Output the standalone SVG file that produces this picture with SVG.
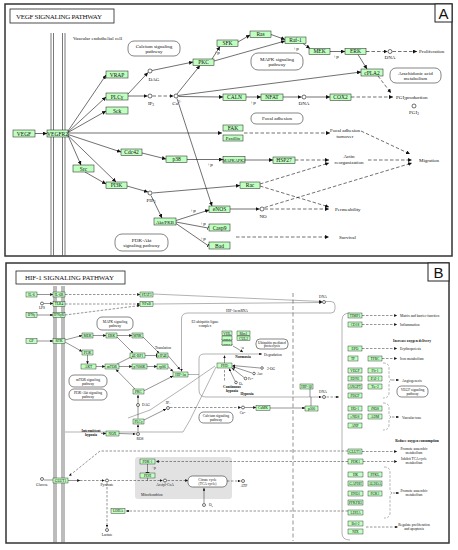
<svg xmlns="http://www.w3.org/2000/svg" width="458" height="550" viewBox="0 0 458 550">
<defs>
<style>
.bg{fill:#fff}
.frame{fill:#fff;stroke:#333;stroke-width:1.5}
.ttl{fill:#fff;stroke:#222;stroke-width:0.8}
.n rect{fill:#bfffbf;stroke:#1a1a1a;stroke-width:0.5}
.n text,.t{font-family:"Liberation Serif",serif;font-size:5.5px;text-anchor:middle;fill:#111}
.s{font-family:"Liberation Serif",serif;font-size:3.6px;fill:#111;text-anchor:middle}
.sl{font-family:"Liberation Serif",serif;font-size:3.6px;fill:#111}
.b{font-weight:bold}
.nb rect{fill:#bfffbf;stroke:#1a1a1a;stroke-width:0.4}
.nb text{font-family:"Liberation Serif",serif;font-size:3.6px;text-anchor:middle;fill:#111}
.pw{fill:#fff;stroke:#333;stroke-width:0.6}
.c path{fill:none;stroke:#111;stroke-width:0.6}
.c .d{stroke-dasharray:3.5 2}
.cb path{fill:none;stroke:#111;stroke-width:0.45}
.cb .d{stroke-dasharray:2.5 1.5}
.cb .g{stroke:#666;stroke-width:0.5}
.cpd{fill:#fff;stroke:#111;stroke-width:0.6}
.mem{stroke:#555;stroke-width:0.8}
.big{font-family:"Liberation Sans",sans-serif;font-size:15px;fill:#111;text-anchor:middle}
.head{font-family:"Liberation Serif",serif;font-size:7px;fill:#111}
</style>
<marker id="ar" viewBox="0 0 6 6" refX="6" refY="3" markerWidth="4" markerHeight="4" orient="auto" markerUnits="userSpaceOnUse"><path d="M0,0 L6,3 L0,6 z" fill="#111"/></marker>
<marker id="ars" viewBox="0 0 6 6" refX="6" refY="3" markerWidth="2.8" markerHeight="2.8" orient="auto" markerUnits="userSpaceOnUse"><path d="M0,0 L6,3 L0,6 z" fill="#111"/></marker>
<marker id="bar" viewBox="0 0 2 8" refX="1" refY="4" markerWidth="0.9" markerHeight="6" orient="auto" markerUnits="userSpaceOnUse"><rect width="2" height="8" fill="#111"/></marker>
</defs>
<rect class="bg" width="458" height="550"/>

<!-- ================= PANEL A ================= -->
<rect class="frame" x="5" y="4" width="447" height="252"/>
<rect class="ttl" x="10" y="9" width="104" height="14"/>
<text class="head" x="16" y="18.5" textLength="86">VEGF SIGNALING PATHWAY</text>
<rect fill="#fff" stroke="#222" stroke-width="1" x="435" y="4" width="17" height="18"/>
<text class="big" x="443.5" y="19">A</text>

<g id="membraneA">
<line class="mem" x1="51" y1="33" x2="51" y2="256"/><line class="mem" x1="53.5" y1="33" x2="53.5" y2="256"/>
<line class="mem" x1="62.5" y1="33" x2="62.5" y2="256"/><line class="mem" x1="65" y1="33" x2="65" y2="256"/>
</g>
<text class="t" x="73" y="39.5" style="text-anchor:start;font-size:5px">Vascular endothelial cell</text>

<g id="pathwaysA">
<g id="calcium_a"><rect class="pw" x="128" y="41" width="52" height="15" rx="6"/><text class="t" x="154" y="47.5" style="font-size:5px">Calcium signaling</text><text class="t" x="154" y="53" style="font-size:5px">pathway</text></g>
<g id="mapk_a"><rect class="pw" x="251" y="53" width="52" height="17" rx="7"/><text class="t" x="277" y="60.5" style="font-size:5px">MAPK signaling</text><text class="t" x="277" y="66" style="font-size:5px">pathway</text></g>
<g id="arach"><rect class="pw" x="390" y="68" width="51" height="15" rx="6"/><text class="t" x="415.5" y="74.5" style="font-size:5px">Arachidonic acid</text><text class="t" x="415.5" y="80" style="font-size:5px">metabolism</text></g>
<g id="focal"><rect class="pw" x="251" y="113" width="52" height="11" rx="5"/><text class="t" x="277" y="120" style="font-size:5px">Focal adhesion</text></g>
<g id="pi3kakt_a"><rect class="pw" x="115" y="234" width="53" height="17" rx="7"/><text class="t" x="141.5" y="241.5" style="font-size:5px">PI3K-Akt</text><text class="t" x="141.5" y="247" style="font-size:5px">signaling pathway</text></g>
</g>

<g id="connectorsA" class="c">
<path d="M35,133.5 L47,133.5" marker-end="url(#ar)"/>
<path d="M68,131 L106,75" marker-end="url(#ar)"/>
<path d="M68,132 L106,97" marker-end="url(#ar)"/>
<path d="M68,132.5 L106,111" marker-end="url(#ar)"/>
<path d="M68,133 L222,133" marker-end="url(#ar)"/>
<path d="M68,134.5 L121,152" marker-end="url(#ar)"/>
<path d="M68,135.5 L81,165" marker-end="url(#ar)"/>
<path d="M68,135.5 L116,182" marker-end="url(#ar)"/>
<path d="M128,94 L148,72.5" marker-end="url(#ar)"/>
<path d="M128,96 L147.5,96" marker-end="url(#ar)"/>
<path class="d" d="M152.5,96 L173.5,96" marker-end="url(#ar)"/>
<path d="M152,70.5 L193,62" marker-end="url(#ar)"/>
<path d="M177,94 L200,65.5" marker-end="url(#ar)"/>
<path d="M178.5,96.5 L223,97" marker-end="url(#ar)"/>
<path d="M178,95.5 L361,72" marker-end="url(#ar)"/>
<path d="M177,98.5 L212,206" marker-end="url(#ar)"/>
<path d="M212,59 L220,46.5" marker-end="url(#ar)"/>
<path d="M214,61 L285,41" marker-end="url(#ar)"/>
<path d="M238,42 L250,35" marker-end="url(#ar)"/>
<path d="M271,34.5 L285,39.5" marker-end="url(#ar)"/>
<path d="M303,43.5 L310,48.5" marker-end="url(#ar)"/>
<path d="M330,51.5 L345,51.5" marker-end="url(#ar)"/>
<path class="d" d="M366,51.5 L387.5,51.5" marker-end="url(#ar)"/>
<path class="d" d="M392.5,51.5 L417,51.5" marker-end="url(#ar)"/>
<path d="M358,54.5 L367,69" marker-end="url(#ar)"/>
<path class="d" d="M378,76 L391,93" marker-end="url(#ar)"/>
<path d="M246,97 L261,97" marker-end="url(#ar)"/>
<path d="M283,97 L301.5,97" marker-end="url(#ar)"/>
<path d="M306.5,97 L330,97" marker-end="url(#ar)"/>
<path class="d" d="M351,97 L393,97" marker-end="url(#ar)"/>
<path d="M142,153 L166,159" marker-end="url(#ar)"/>
<path d="M187,159.5 L223,159.5" marker-end="url(#ar)"/>
<path d="M245,160 L273,160" marker-end="url(#ar)"/>
<path d="M85,172 L106,184" marker-end="url(#ar)"/>
<path d="M127,186 L148,192" marker-end="url(#ar)"/>
<path d="M152.5,193 L240,185.5" marker-end="url(#ar)"/>
<path d="M151,195.5 L162,218" marker-end="url(#ar)"/>
<path d="M176,220.5 L209,210" marker-end="url(#ar)"/>
<path d="M176,222 L208,228" marker-end="url(#bar)"/>
<path d="M176,223.5 L208,245.5" marker-end="url(#bar)"/>
<path d="M230,209 L259.5,209" marker-end="url(#ar)"/>
<path class="d" d="M244,133 L330,133" marker-end="url(#ar)"/>
<path class="d" d="M295,160 L329,160" marker-end="url(#ar)"/>
<path class="d" d="M368,160 L412,160" marker-end="url(#ar)"/>
<path class="d" d="M361,131 L410,154" marker-end="url(#ar)"/>
<path class="d" d="M260,184 L329,163" marker-end="url(#ar)"/>
<path class="d" d="M260,186 L329,207" marker-end="url(#ar)"/>
<path class="d" d="M264.5,207.5 L412,163" marker-end="url(#ar)"/>
<path class="d" d="M264.5,209 L329,209" marker-end="url(#ar)"/>
<path class="d" d="M236,237 L329,237" marker-end="url(#ar)"/>
</g>

<g id="compoundsA">
<circle class="cpd" cx="150" cy="71" r="2"/><circle class="cpd" cx="150" cy="96" r="2"/><circle class="cpd" cx="176" cy="96" r="2"/>
<circle class="cpd" cx="390" cy="51.5" r="2"/><circle class="cpd" cx="304" cy="97" r="2"/><circle class="cpd" cx="414" cy="106" r="2"/>
<circle class="cpd" cx="150" cy="193" r="2"/><circle class="cpd" cx="262" cy="209" r="2"/>
</g>
<g id="labelsA" class="t" style="font-size:5px">
<text x="154" y="81">DAG</text><text x="151" y="104.5">IP<tspan font-size="3.5" dy="1">3</tspan></text>
<text x="177" y="104.5">Ca<tspan font-size="3.5" dy="-2">2+</tspan></text>
<text x="390" y="59">DNA</text><text x="304" y="105">DNA</text>
<text x="419" y="53" style="text-anchor:start">Proliferation</text>
<text x="396" y="99" style="text-anchor:start">PGI<tspan font-size="3.5" dy="1">2</tspan><tspan dy="-1">production</tspan></text>
<text x="414" y="114">PGI<tspan font-size="3.5" dy="1">2</tspan></text>
<text x="151" y="202">PIP<tspan font-size="3.5" dy="1">3</tspan></text>
<text x="263" y="218">NO</text>
<text x="345" y="132">Focal adhesion</text><text x="345" y="137.5">turnover</text>
<text x="349" y="158">Actin</text><text x="349" y="163.5">reorganization</text>
<text x="419" y="161.5" style="text-anchor:start">Migration</text>
<text x="335" y="210.5" style="text-anchor:start">Permeability</text>
<text x="339" y="238.5" style="text-anchor:start">Survival</text>
<text x="217" y="53.5">+p</text><text x="296" y="50">+p</text><text x="336" y="58">+p</text><text x="253" y="104">+p</text>
<text x="210" y="166">+p</text><text x="193" y="212">+p</text><text x="203" y="225">+p</text><text x="203" y="240">+p</text>
</g>

<g id="VEGF" class="n"><rect x="13" y="130" width="22" height="7"/><text x="24" y="135.5">VEGF</text></g>
<g id="VEGFR2" class="n"><rect x="47" y="130" width="21" height="7"/><text x="57.5" y="135.5">VEGFR2</text></g>
<g id="VRAP" class="n"><rect x="106" y="71" width="22" height="7"/><text x="117" y="76.5">VRAP</text></g>
<g id="PLCg" class="n"><rect x="106" y="93" width="22" height="7"/><text x="117" y="98.5">PLCγ</text></g>
<g id="Sck" class="n"><rect x="106" y="107" width="22" height="7"/><text x="117" y="112.5">Sck</text></g>
<g id="PKC" class="n"><rect x="193" y="59" width="21" height="6.5"/><text x="203.5" y="64">PKC</text></g>
<g id="SFK" class="n"><rect x="217" y="40" width="21" height="6.5"/><text x="227.5" y="45">SFK</text></g>
<g id="Ras" class="n"><rect x="250" y="31" width="21" height="6.5"/><text x="260.5" y="36">Ras</text></g>
<g id="Raf1" class="n"><rect x="285" y="37" width="21" height="6.5"/><text x="295.5" y="42">Raf-1</text></g>
<g id="MEK" class="n"><rect x="309" y="48.5" width="21" height="6"/><text x="319.5" y="53.3">MEK</text></g>
<g id="ERK" class="n"><rect x="345" y="48.5" width="21" height="6"/><text x="355.5" y="53.3">ERK</text></g>
<g id="cPLA2" class="n"><rect x="361" y="69" width="22" height="7"/><text x="372" y="74.5">cPLA2</text></g>
<g id="CALN" class="n"><rect x="223" y="94" width="23" height="6.5"/><text x="234.5" y="99">CALN</text></g>
<g id="NFAT" class="n"><rect x="261" y="94" width="22" height="6.5"/><text x="272" y="99">NFAT</text></g>
<g id="COX2" class="n"><rect x="330" y="94" width="21" height="6.5"/><text x="340.5" y="99">COX2</text></g>
<g id="FAK" class="n"><rect x="223" y="125" width="20" height="6"/><text x="233" y="129.8">FAK</text></g>
<g id="Paxillin" class="n"><rect x="223" y="135" width="20" height="6"/><text x="233" y="139.8" style="font-size:4.6px">Paxillin</text></g>
<g id="Cdc42" class="n"><rect x="121" y="149" width="21" height="6.5"/><text x="131.5" y="154">Cdc42</text></g>
<g id="p38" class="n"><rect x="166" y="156" width="21" height="6.5"/><text x="176.5" y="161">p38</text></g>
<g id="MAPKAPK2" class="n"><rect x="223" y="156.5" width="22" height="6.5"/><text x="234" y="161.5" style="font-size:4.2px">MAPKAPK2</text></g>
<g id="HSP27" class="n"><rect x="273" y="157" width="22" height="6.5"/><text x="284" y="162">HSP27</text></g>
<g id="Src" class="n"><rect x="73" y="165" width="21" height="7"/><text x="83.5" y="170.5">Src</text></g>
<g id="PI3K" class="n"><rect x="106" y="182" width="21" height="6.5"/><text x="116.5" y="187">PI3K</text></g>
<g id="Rac" class="n"><rect x="240" y="182" width="20" height="6.5"/><text x="250" y="187">Rac</text></g>
<g id="AktPKB" class="n"><rect x="154" y="218" width="22" height="7"/><text x="165" y="223.5" style="font-size:4.8px">Akt/PKB</text></g>
<g id="eNOS" class="n"><rect x="209" y="206" width="21" height="6.5"/><text x="219.5" y="211">eNOS</text></g>
<g id="Casp9" class="n"><rect x="209" y="224" width="21" height="7"/><text x="219.5" y="229.5">Casp9</text></g>
<g id="Bad" class="n"><rect x="209" y="242" width="21" height="7"/><text x="219.5" y="247.5">Bad</text></g>

<!-- ================= PANEL B ================= -->
<rect class="frame" x="6" y="263" width="443" height="280"/>
<rect class="ttl" x="16" y="271" width="109" height="13"/>
<text class="head" x="25" y="280" textLength="89">HIF-1 SIGNALING PATHWAY</text>
<rect fill="#fff" stroke="#222" stroke-width="1" x="428" y="263" width="21" height="18"/>
<text class="big" x="438.5" y="278">B</text>

<g id="membraneB">
<line class="mem" x1="54" y1="286" x2="54" y2="543"/><line class="mem" x1="56" y1="286" x2="56" y2="543"/>
<line class="mem" x1="62" y1="286" x2="62" y2="543"/><line class="mem" x1="64" y1="286" x2="64" y2="543"/>
</g>
<line x1="293" y1="293" x2="293" y2="541" stroke="#777" stroke-width="0.8" stroke-dasharray="4 2.5"/>
<rect x="135" y="457" width="97" height="42" rx="3" fill="#e2e2e2"/>
<text class="sl" x="141" y="495.5">Mitochondrion</text>

<g id="pathwaysB">
<g id="mapk_b"><rect class="pw" x="97" y="317" width="36" height="13" rx="5"/><text class="s" x="115" y="322.5">MAPK signaling</text><text class="s" x="115" y="327">pathway</text></g>
<g id="mtor_b"><rect class="pw" x="69" y="375" width="38" height="12" rx="5"/><text class="s" x="88" y="380.5">mTOR signaling</text><text class="s" x="88" y="384.5">pathway</text></g>
<g id="pi3k_b"><rect class="pw" x="69" y="389" width="38" height="11" rx="5"/><text class="s" x="88" y="394">PI3K-Akt signaling</text><text class="s" x="88" y="398">pathway</text></g>
<g id="ubi_b"><rect class="pw" x="256" y="339" width="32" height="10" rx="4"/><text class="s" x="272" y="343.5">Ubiquitin mediated</text><text class="s" x="272" y="347.3">proteolysis</text></g>
<g id="calcium_b"><rect class="pw" x="199" y="412" width="34" height="11" rx="4.5"/><text class="s" x="216" y="417">Calcium signaling</text><text class="s" x="216" y="421">pathway</text></g>
<g id="vegf_b"><rect class="pw" x="397" y="386" width="31" height="11" rx="4.5"/><text class="s" x="412.5" y="391">VEGF signaling</text><text class="s" x="412.5" y="395">pathway</text></g>
<g id="tca_b"><rect class="pw" x="188" y="476" width="39" height="11" rx="4.5"/><text class="s" x="207.5" y="481">Citrate cycle</text><text class="s" x="207.5" y="485">(TCA cycle)</text></g>
</g>

<g id="connectorsB" class="cb">
<path d="M37,294.5 L53,294.5" marker-end="url(#ars)"/>
<path d="M44,303.5 L53,303.5" marker-end="url(#ars)"/>
<path d="M37,315 L53,315" marker-end="url(#ars)"/>
<path d="M37,341 L53,341" marker-end="url(#ars)"/>
<path class="d" d="M65,294.5 L140,294.5" marker-end="url(#ars)"/>
<path class="d" d="M65,304 L140,304" marker-end="url(#ars)"/>
<path class="d" d="M65,315 L140,305.5" marker-end="url(#ars)"/>
<path class="g" d="M153,294 L322,301.5" marker-end="url(#ars)"/>
<path class="g" d="M153,304 L322,302.5" marker-end="url(#ars)"/>
<path class="g" d="M326,301.5 L331,301.5 Q335,301.5 335,305.5 L335,309 Q335,313 331,313 L188,313 Q181.5,313 181.5,319 L181.5,371.5" marker-end="url(#ars)"/>
<path d="M65,340 L82,335.5" marker-end="url(#ars)"/>
<path d="M65,342 L82,351.5" marker-end="url(#ars)"/>
<path d="M93,335.5 L106,335.5" marker-end="url(#ars)"/>
<path d="M117,335.5 L132,335.5" marker-end="url(#ars)"/>
<path d="M143,337 L159,353" marker-end="url(#ars)"/>
<path d="M117,337 L133,353" marker-end="url(#ars)"/>
<path d="M87.5,355 L87.5,364" marker-end="url(#ars)"/>
<path d="M96,366.5 L105,366.5" marker-end="url(#ars)"/>
<path d="M119,366.5 L132,366.5" marker-end="url(#ars)"/>
<path d="M147,366.5 L157,366.5" marker-end="url(#ars)"/>
<path d="M117,364 L131,357" marker-end="url(#bar)"/>
<path d="M145,355.5 L156.5,355.5" marker-end="url(#bar)"/>
<path d="M168,355.5 L180,369.5" marker-end="url(#ars)"/>
<path d="M168,366.5 L173,371.5" marker-end="url(#ars)"/>
<path class="g" d="M188,374.5 L199,374.5"/>
<path class="g" d="M199,374.5 L199,359 Q199,354 204,354 L262,354" marker-end="url(#ars)"/>
<path class="g" d="M199,374.5 L199,390 Q199,397 206,397 L321.5,397" marker-end="url(#ars)"/>
<path class="d" d="M326.5,397 L339,397" marker-end="url(#ars)"/>
<path d="M310,389 L310,397"/>
<path d="M311,406 L311,397"/>
<path d="M224.5,363 L224.5,355.5" marker-end="url(#ars)"/>
<path d="M233,346 L243,352" marker-end="url(#ars)"/>
<path d="M260,368 L232.5,365.5" marker-end="url(#ars)"/>
<path d="M252,373 L232.5,366.5" marker-end="url(#ars)"/>
<path d="M244,377.5 L232,368" marker-end="url(#ars)"/>
<path d="M235,381 L229,368.5" marker-end="url(#ars)"/>
<path class="d" d="M224.5,370 L224.5,382"/>
<path class="g" d="M215,366 L186,386 L150,410 L128,418"/>
<path class="g" d="M216,367 L190,420 L183,432 L65,432"/>
<path d="M138,418.5 L138,395" marker-end="url(#ars)"/>
<path d="M135,389 L116,369.5" marker-end="url(#ars)"/>
<path d="M143.5,391 L173,376" marker-end="url(#ars)"/>
<path d="M144,420 L166,409" marker-end="url(#ars)"/>
<path class="d" d="M170,407.5 L241,407.5" marker-end="url(#ars)"/>
<path d="M245,407.5 L256,407.5" marker-end="url(#ars)"/>
<path d="M270,408 L305,408" marker-end="url(#ars)"/>
<path d="M101,433.5 L106,433.5" marker-end="url(#ars)"/>
<path d="M119,433.5 L135.5,434" marker-end="url(#ars)"/>
<path d="M138,431.5 L138,424.5" marker-end="url(#ars)"/>
<path class="d" d="M362,315.5 L397,315.5" marker-end="url(#ars)"/>
<path class="d" d="M362,324.5 L397,324.5" marker-end="url(#ars)"/>
<path class="d" d="M362,348.5 L397,348.5" marker-end="url(#ars)"/>
<path class="d" d="M382,358.5 L397,358.5" marker-end="url(#ars)"/>
<path class="d g" d="M383,363 Q389,363 389,368 L389,376 Q389,380 392,380 Q389,380 389,384 L389,393 Q389,398 383,398"/>
<path class="d" d="M392,380 L399,380" marker-end="url(#ars)"/>
<path class="d g" d="M383,403 Q389,403 389,408 L389,413 Q389,417 392,417 Q389,417 389,421 L389,425 Q389,430 383,430"/>
<path class="d" d="M392,417 L399,417" marker-end="url(#ars)"/>
<path class="d" d="M362,451.5 L397,451.5" marker-end="url(#ars)"/>
<path class="d" d="M363,461.5 L397,461.5" marker-end="url(#ars)"/>
<path class="d g" d="M384,467 Q390,467 390,472 L390,489 Q390,493 393,493 Q390,493 390,497 L390,513 Q390,518 384,518"/>
<path class="d" d="M393,493 L399,493" marker-end="url(#ars)"/>
<path class="d" d="M366,527 L398,527" marker-end="url(#ars)"/>
<path class="g" d="M350,313 Q342,313 342,320 L342,533 Q342,540 350,540"/>
<path class="d" d="M348,451 L100,451 L69,476" marker-end="url(#ars)"/>
<path class="d" d="M348,461.5 L156,461.5" marker-end="url(#ars)"/>
<path class="d" d="M348,511 L126,511" marker-end="url(#ars)"/>
<path d="M44,480 L53,480"/>
<path d="M68,480.5 L80,480.5" marker-end="url(#ars)"/>
<path class="d" d="M80,480.5 L104.5,480.5" marker-end="url(#ars)"/>
<path class="d" d="M109.5,480.5 L162.5,480.5" marker-end="url(#ars)"/>
<path class="d" d="M167.5,480.5 L188,480.5" marker-end="url(#ars)"/>
<path class="d" d="M227,481 L240.5,481" marker-end="url(#ars)"/>
<path d="M147.5,464 L147.5,472.5" marker-end="url(#bar)"/>
<path d="M147.5,478 L147.5,480.5"/>
<path d="M204,503 L204,488" marker-end="url(#ars)"/>
<path class="d" d="M107,483 L107,527.5" marker-end="url(#ars)"/>
</g>

<g id="compoundsB">
<circle class="cpd" cx="42" cy="303.5" r="1.5"/><circle class="cpd" cx="324" cy="302" r="1.5"/>
<circle class="cpd" cx="324" cy="397" r="1.5"/><circle class="cpd" cx="138" cy="405" r="1.5"/>
<circle class="cpd" cx="168" cy="408" r="1.5"/><circle class="cpd" cx="243" cy="407.5" r="1.5"/>
<circle class="cpd" cx="138" cy="434" r="1.5"/>
<circle class="cpd" cx="262" cy="368" r="1.3"/><circle class="cpd" cx="254" cy="373.5" r="1.3"/>
<circle class="cpd" cx="245.5" cy="378.5" r="1.3"/><circle class="cpd" cx="236" cy="382.5" r="1.3"/>
<circle class="cpd" cx="42" cy="479" r="1.5"/><circle class="cpd" cx="107" cy="480.5" r="1.5"/>
<circle class="cpd" cx="165" cy="480.5" r="1.5"/><circle class="cpd" cx="243" cy="481" r="1.5"/>
<circle class="cpd" cx="204" cy="505" r="1.5"/><circle class="cpd" cx="107" cy="530" r="1.5"/>
</g>

<g id="labelsB" class="s">
<text x="42" y="309">LPS</text>
<text x="323" y="298">DNA</text><text x="323" y="392.5">DNA</text>
<text x="237" y="312">HIF-1α mRNA</text>
<text x="205" y="323">E3 ubiquitin ligase</text><text x="205" y="327">complex</text>
<text x="163" y="349">Translation</text>
<text class="b" x="243" y="358">Normoxia</text>
<text x="264" y="355.5" style="text-anchor:start">Degradation</text>
<text x="242" y="349">+u</text>
<text x="267" y="369.5" style="text-anchor:start">2-OG</text>
<text x="257" y="375" style="text-anchor:start">Asc</text>
<text x="248" y="380" style="text-anchor:start">Fe<tspan font-size="2.5" dy="-1">2+</tspan></text>
<text x="239" y="384.5" style="text-anchor:start">O<tspan font-size="2.5" dy="0.8">2</tspan></text>
<text class="b" x="232" y="387.5">Continuous</text><text class="b" x="232" y="391.5">hypoxia</text>
<text class="b" x="247" y="395">Hypoxia</text>
<text x="146" y="405.5">DAG</text><text x="168" y="403.5">IP<tspan font-size="2.5" dy="0.8">3</tspan></text>
<text x="243" y="414">Ca<tspan font-size="2.5" dy="-1">2+</tspan></text>
<text class="b" x="91" y="432">Intermittent</text><text class="b" x="91" y="436">hypoxia</text>
<text x="140" y="440">ROS</text>
<text x="42" y="486">Glucose</text><text x="107" y="486">Pyruvate</text>
<text x="165" y="486">Acetyl-CoA</text><text x="244" y="487">ATP</text>
<text x="209" y="506" style="text-anchor:start">O<tspan font-size="2.5" dy="0.8">2</tspan></text>
<text x="107" y="536">Lactate</text>
<text x="152" y="469" style="text-anchor:start">+p</text>
<text x="400" y="317" style="text-anchor:start">Matrix and barrier function</text>
<text x="400" y="326" style="text-anchor:start">Inflammation</text>
<text class="b" x="412" y="342">Increase oxygen delivery</text>
<text x="400" y="350" style="text-anchor:start">Erythropoiesis</text>
<text x="400" y="360" style="text-anchor:start">Iron metabolism</text>
<text x="402" y="381.5" style="text-anchor:start">Angiogenesis</text>
<text x="402" y="418.5" style="text-anchor:start">Vascular tone</text>
<text class="b" x="417" y="442">Reduce oxygen consumption</text>
<text x="414" y="450">Promote anaerobic</text><text x="414" y="454">metabolism</text>
<text x="414" y="460">Inhibit TCA cycle</text><text x="414" y="464">metabolism</text>
<text x="414" y="492">Promote anaerobic</text><text x="414" y="496">metabolism</text>
<text x="414" y="526">Regulate proliferation</text><text x="414" y="530">and apoptosis</text>
</g>

<g id="IL6" class="nb"><rect x="26" y="292" width="11" height="5"/><text x="31.5" y="295.8">IL-6</text></g>
<g id="IL6R" class="nb"><rect x="53" y="292" width="12" height="5"/><text x="59" y="295.8">IL-6R</text></g>
<g id="TLR4" class="nb"><rect x="53" y="301.5" width="12" height="5"/><text x="59" y="305.3">TLR4</text></g>
<g id="IFNg" class="nb"><rect x="26" y="312.5" width="11" height="5"/><text x="31.5" y="316.3">IFNγ</text></g>
<g id="IFNgR" class="nb"><rect x="53" y="312.5" width="12" height="5"/><text x="59" y="316.3">IFNγR</text></g>
<g id="GF" class="nb"><rect x="26" y="338.5" width="11" height="5"/><text x="31.5" y="342.3">GF</text></g>
<g id="RTK" class="nb"><rect x="53" y="338.5" width="12" height="5"/><text x="59" y="342.3">RTK</text></g>
<g id="STAT3" class="nb"><rect x="140" y="292" width="13" height="5"/><text x="146.5" y="295.8">STAT3</text></g>
<g id="NFkB" class="nb"><rect x="140" y="301.5" width="13" height="5"/><text x="146.5" y="305.3">NFκB</text></g>
<g id="MEK_b" class="nb"><rect x="82" y="333" width="11" height="5"/><text x="87.5" y="336.8">MEK</text></g>
<g id="ERK_b" class="nb"><rect x="106" y="333" width="11" height="5"/><text x="111.5" y="336.8">ERK</text></g>
<g id="MNK" class="nb"><rect x="132" y="333" width="11" height="5"/><text x="137.5" y="336.8">MNK</text></g>
<g id="PI3K_b" class="nb"><rect x="82" y="350" width="11" height="5"/><text x="87.5" y="353.8">PI3K</text></g>
<g id="4EBP1" class="nb"><rect x="130" y="353" width="15" height="5"/><text x="137.5" y="356.8">4E-BP1</text></g>
<g id="eIF4E" class="nb"><rect x="157" y="353" width="11" height="5"/><text x="162.5" y="356.8">eIF4E</text></g>
<g id="AKT" class="nb"><rect x="81" y="364" width="15" height="5"/><text x="88.5" y="367.8">AKT</text></g>
<g id="mTOR" class="nb"><rect x="105" y="364" width="14" height="5"/><text x="112" y="367.8">mTOR</text></g>
<g id="p70S6K" class="nb"><rect x="132" y="364" width="15" height="5"/><text x="139.5" y="367.8">p70S6K</text></g>
<g id="rpS6" class="nb"><rect x="157" y="364" width="11" height="5"/><text x="162.5" y="367.8">rpS6</text></g>
<g id="HIF1a" class="nb"><rect x="173" y="372" width="15" height="5"/><text x="180.5" y="375.8">HIF-1α</text></g>
<g id="VHL" class="nb"><rect x="222" y="331" width="10" height="4.5"/><text x="227" y="334.5">VHL</text></g>
<g id="EloC" class="nb"><rect x="222" y="336" width="10" height="4.5"/><text x="227" y="339.5" style="font-size:2.8px">Elongin C</text></g>
<g id="EloB" class="nb"><rect x="222" y="341" width="10" height="4.5"/><text x="227" y="344.5" style="font-size:2.8px">Elongin B</text></g>
<g id="Rbx1" class="nb"><rect x="237" y="331" width="13" height="4.5"/><text x="243.5" y="334.5">Rbx1</text></g>
<g id="CUL2" class="nb"><rect x="237" y="336" width="13" height="4.5"/><text x="243.5" y="339.5">CUL2</text></g>
<g id="PHD" class="nb"><rect x="217" y="363" width="15" height="5"/><text x="224.5" y="366.8">PHD</text></g>
<g id="PKC_b" class="nb"><rect x="133" y="389" width="11" height="5"/><text x="138.5" y="392.8">PKC</text></g>
<g id="PLCg_b" class="nb"><rect x="133" y="419" width="11" height="5"/><text x="138.5" y="422.8">PLCγ</text></g>
<g id="NOX" class="nb"><rect x="106" y="431" width="13" height="5"/><text x="112.5" y="434.8">NOX</text></g>
<g id="CaMK" class="nb"><rect x="256" y="405.5" width="14" height="5"/><text x="263" y="409.3">CaMK</text></g>
<g id="HIF1b" class="nb"><rect x="300" y="384" width="13" height="5"/><text x="306.5" y="387.8">HIF-1β</text></g>
<g id="p300" class="nb"><rect x="305" y="406" width="13" height="5"/><text x="311.5" y="409.8">p300</text></g>
<g id="TIMP1" class="nb"><rect x="348" y="313" width="14" height="5"/><text x="355" y="316.8">TIMP1</text></g>
<g id="CD18" class="nb"><rect x="348" y="322" width="14" height="5"/><text x="355" y="325.8">CD18</text></g>
<g id="EPO" class="nb"><rect x="348" y="346" width="14" height="5"/><text x="355" y="349.8">EPO</text></g>
<g id="TF" class="nb"><rect x="348" y="356" width="10" height="5"/><text x="353" y="359.8">TF</text></g>
<g id="TFRC" class="nb"><rect x="368" y="356" width="14" height="5"/><text x="375" y="359.8">TFRC</text></g>
<g id="VEGF_b" class="nb"><rect x="348" y="368" width="14" height="5"/><text x="355" y="371.8">VEGF</text></g>
<g id="FLT1" class="nb"><rect x="368" y="368" width="14" height="5"/><text x="375" y="371.8">Flt-1</text></g>
<g id="EDN1" class="nb"><rect x="348" y="376" width="14" height="5"/><text x="355" y="379.8">EDN1</text></g>
<g id="PAI1" class="nb"><rect x="368" y="376" width="14" height="5"/><text x="375" y="379.8">PAI-1</text></g>
<g id="ANGPT" class="nb"><rect x="348" y="384" width="14" height="5"/><text x="355" y="387.8">ANGPT</text></g>
<g id="TIE2" class="nb"><rect x="368" y="384" width="14" height="5"/><text x="375" y="387.8">Tie-2</text></g>
<g id="TIMP1b" class="nb"><rect x="348" y="393" width="14" height="5"/><text x="355" y="396.8">PDGF</text></g>
<g id="HO1" class="nb"><rect x="348" y="406" width="14" height="5"/><text x="355" y="409.8">HO-1</text></g>
<g id="iNOS" class="nb"><rect x="368" y="406" width="14" height="5"/><text x="375" y="409.8">iNOS</text></g>
<g id="eNOS_b" class="nb"><rect x="348" y="414" width="14" height="5"/><text x="355" y="417.8">eNOS</text></g>
<g id="HMOX" class="nb"><rect x="368" y="414" width="14" height="5"/><text x="375" y="417.8">ADM</text></g>
<g id="ANP" class="nb"><rect x="348" y="423" width="14" height="5"/><text x="355" y="426.8">ANP</text></g>
<g id="GLUT1t" class="nb"><rect x="348" y="449" width="14" height="5"/><text x="355" y="452.8">GLUT1</text></g>
<g id="PDK1t" class="nb"><rect x="348" y="459" width="15" height="5"/><text x="355.5" y="462.8">PDK1</text></g>
<g id="HK" class="nb"><rect x="348" y="472" width="15" height="5"/><text x="355.5" y="475.8">HK</text></g>
<g id="PFKL" class="nb"><rect x="368" y="472" width="14" height="5"/><text x="375" y="475.8">PFKL</text></g>
<g id="GAPDH" class="nb"><rect x="348" y="481" width="15" height="5"/><text x="355.5" y="484.8">GAPDH</text></g>
<g id="ALDOA" class="nb"><rect x="368" y="481" width="14" height="5"/><text x="375" y="484.8">ALDOA</text></g>
<g id="ENO1" class="nb"><rect x="348" y="491" width="15" height="5"/><text x="355.5" y="494.8">ENO1</text></g>
<g id="PGK1" class="nb"><rect x="368" y="491" width="14" height="5"/><text x="375" y="494.8">PGK1</text></g>
<g id="PFKFB3" class="nb"><rect x="348" y="500" width="15" height="5"/><text x="355.5" y="503.8">PFKFB3</text></g>
<g id="LDHAt" class="nb"><rect x="348" y="510" width="15" height="5"/><text x="355.5" y="513.8">LDHA</text></g>
<g id="Bcl2" class="nb"><rect x="348" y="521" width="15" height="5"/><text x="355.5" y="524.8">Bcl-2</text></g>
<g id="BNIP3" class="nb"><rect x="348" y="529" width="15" height="5"/><text x="355.5" y="532.8">NIX</text></g>
<g id="GLUT1" class="nb"><rect x="53" y="478" width="15" height="5"/><text x="60.5" y="481.8">GLUT1</text></g>
<g id="PDK1m" class="nb"><rect x="140" y="459" width="15" height="5"/><text x="147.5" y="462.8">PDK-1</text></g>
<g id="PDH" class="nb"><rect x="140" y="473" width="15" height="5"/><text x="147.5" y="476.8">PDH</text></g>
<g id="LDHA" class="nb"><rect x="111" y="508.5" width="14" height="5"/><text x="118" y="512.3">LDHA</text></g>
</svg>
